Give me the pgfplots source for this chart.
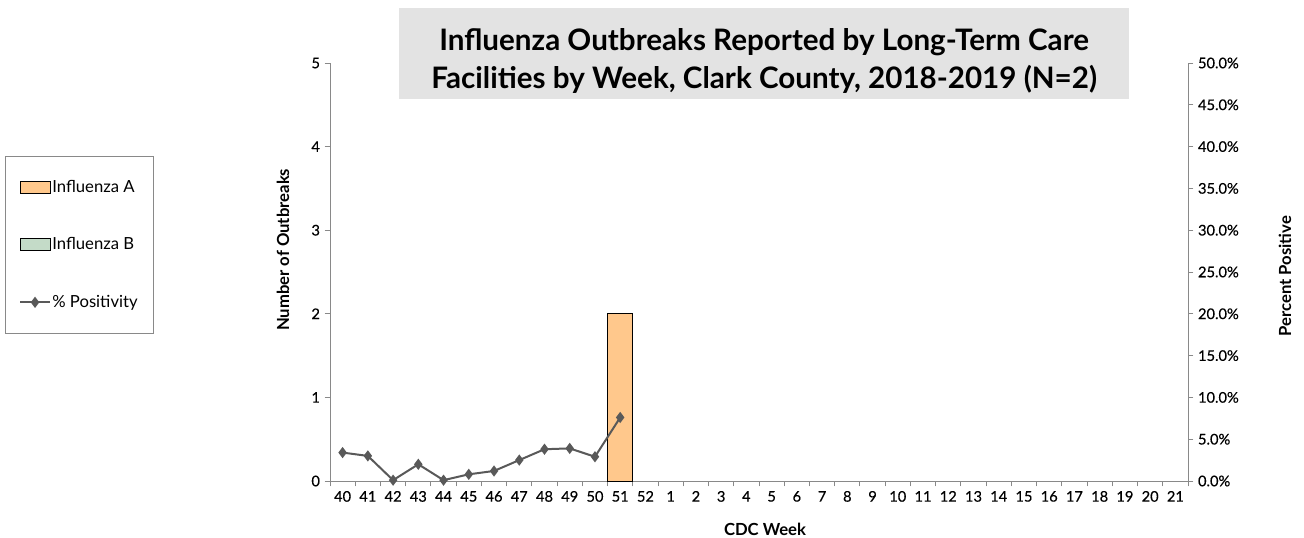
\documentclass[border=0pt]{standalone}
\usepackage{pgfplots}
\pgfplotsset{compat=1.18}
\usepackage{fontspec}
\setmainfont{Lato}
\newfontfamily\medfont{Lato}[FakeBold=0.4]
\definecolor{fluA}{RGB}{255,200,140}
\definecolor{fluB}{RGB}{196,219,200}
\definecolor{axgray}{RGB}{137,137,137}
\definecolor{linegray}{RGB}{89,89,89}
\definecolor{titlebg}{RGB}{227,227,227}
\pgfplotsset{
  barlegend/.style={legend image code/.code={\draw[##1] (0pt,-4.5pt) rectangle (22.5pt,4.5pt);}},
  linelegend/.style={legend image code/.code={\draw[mark repeat=2,mark phase=2,##1] plot coordinates {(0pt,0pt) (11.25pt,0pt) (22.5pt,0pt)};}},
  common/.style={
    at={(247.5pt,42pt)}, anchor=south west, scale only axis,
    width=643.5pt, height=313.5pt,
    xmin=-0.5, xmax=33.5,
    tick label style={font=\medfont\fontsize{11}{13}\selectfont},
    /pgf/number format/assume math mode=true,
    axis line style={axgray, line width=0.75pt},
    tick style={axgray, line width=0.75pt},
    tick align=outside,
    major tick length=4pt,
    minor tick length=4pt,
    clip=false,
  }
}
\begin{document}
\begin{tikzpicture}
\useasboundingbox (0,0) rectangle (978pt,402.75pt);
\begin{axis}[common,
  axis y line*=left, axis x line*=bottom,
  ymin=0, ymax=5, ytick={0,1,2,3,4,5},
  xtick={0,...,33},
  xticklabels={40,41,42,43,44,45,46,47,48,49,50,51,52,1,2,3,4,5,6,7,8,9,10,11,12,13,14,15,16,17,18,19,20,21},
  major x tick style={draw=none},
  minor xtick={-0.5,0.5,...,33.5},
  minor x tick style={axgray, line width=0.75pt},
  xlabel={CDC Week},
  xlabel style={at={(axis description cs:0.507,-0.115)}, anchor=center, font=\fontsize{12.5}{14}\selectfont\bfseries},
  ylabel={Number of Outbreaks},
  ylabel style={at={(axis description cs:-0.0548,0.553)}, anchor=center, font=\fontsize{12.5}{14}\selectfont\bfseries},
  title={\rule{0pt}{32pt}Influenza Outbreaks Reported by Long-Term Care\\Facilities by Week, Clark County, 2018-2019 (N=2)\rule[-7.5pt]{0pt}{7.5pt}},
  title style={at={(axis description cs:0.506,1.023)}, anchor=center, yshift=-6pt, fill=titlebg,
    minimum width=547.5pt, inner ysep=0pt, align=center,
    font=\fontsize{22.2}{28.5}\selectfont\bfseries},
]
\addplot[ybar, bar width=1, bar shift=0, fill=fluA, draw=black, line width=0.75pt] coordinates {(11,2)};
\end{axis}
\begin{axis}[common,
  axis y line*=right, axis x line=none,
  ymin=0, ymax=50, ytick={0,5,...,50},
  yticklabel={\pgfmathprintnumber[fixed,fixed zerofill,precision=1]{\tick}\%},
  ylabel={Percent Positive},
  ylabel style={at={(axis description cs:1.113,0.49)}, anchor=center, rotate=0, font=\fontsize{12.5}{14}\selectfont\bfseries},
  legend style={at={(axis description cs:-0.206,0.565)}, anchor=east, draw=axgray,
    font=\fontsize{12.5}{14}\selectfont, row sep=30.5pt, inner xsep=10.5pt, inner ysep=17pt,
    nodes={inner sep=1pt}},
  legend cell align=left,
]
\addlegendimage{barlegend, fill=fluA, draw=black, line width=0.75pt}
\addlegendentry{Influenza A}
\addlegendimage{barlegend, fill=fluB, draw=black, line width=0.75pt}
\addlegendentry{Influenza B}
\addplot[linelegend, color=linegray, line width=1.5pt, mark=diamond*, mark size=3pt] coordinates {
(0,3.4) (1,3.0) (2,0.1) (3,2.0) (4,0.1) (5,0.8) (6,1.2) (7,2.5) (8,3.8) (9,3.9) (10,2.9) (11,7.6)
};
\addlegendentry{\% Positivity}
\end{axis}
\end{tikzpicture}
\end{document}
